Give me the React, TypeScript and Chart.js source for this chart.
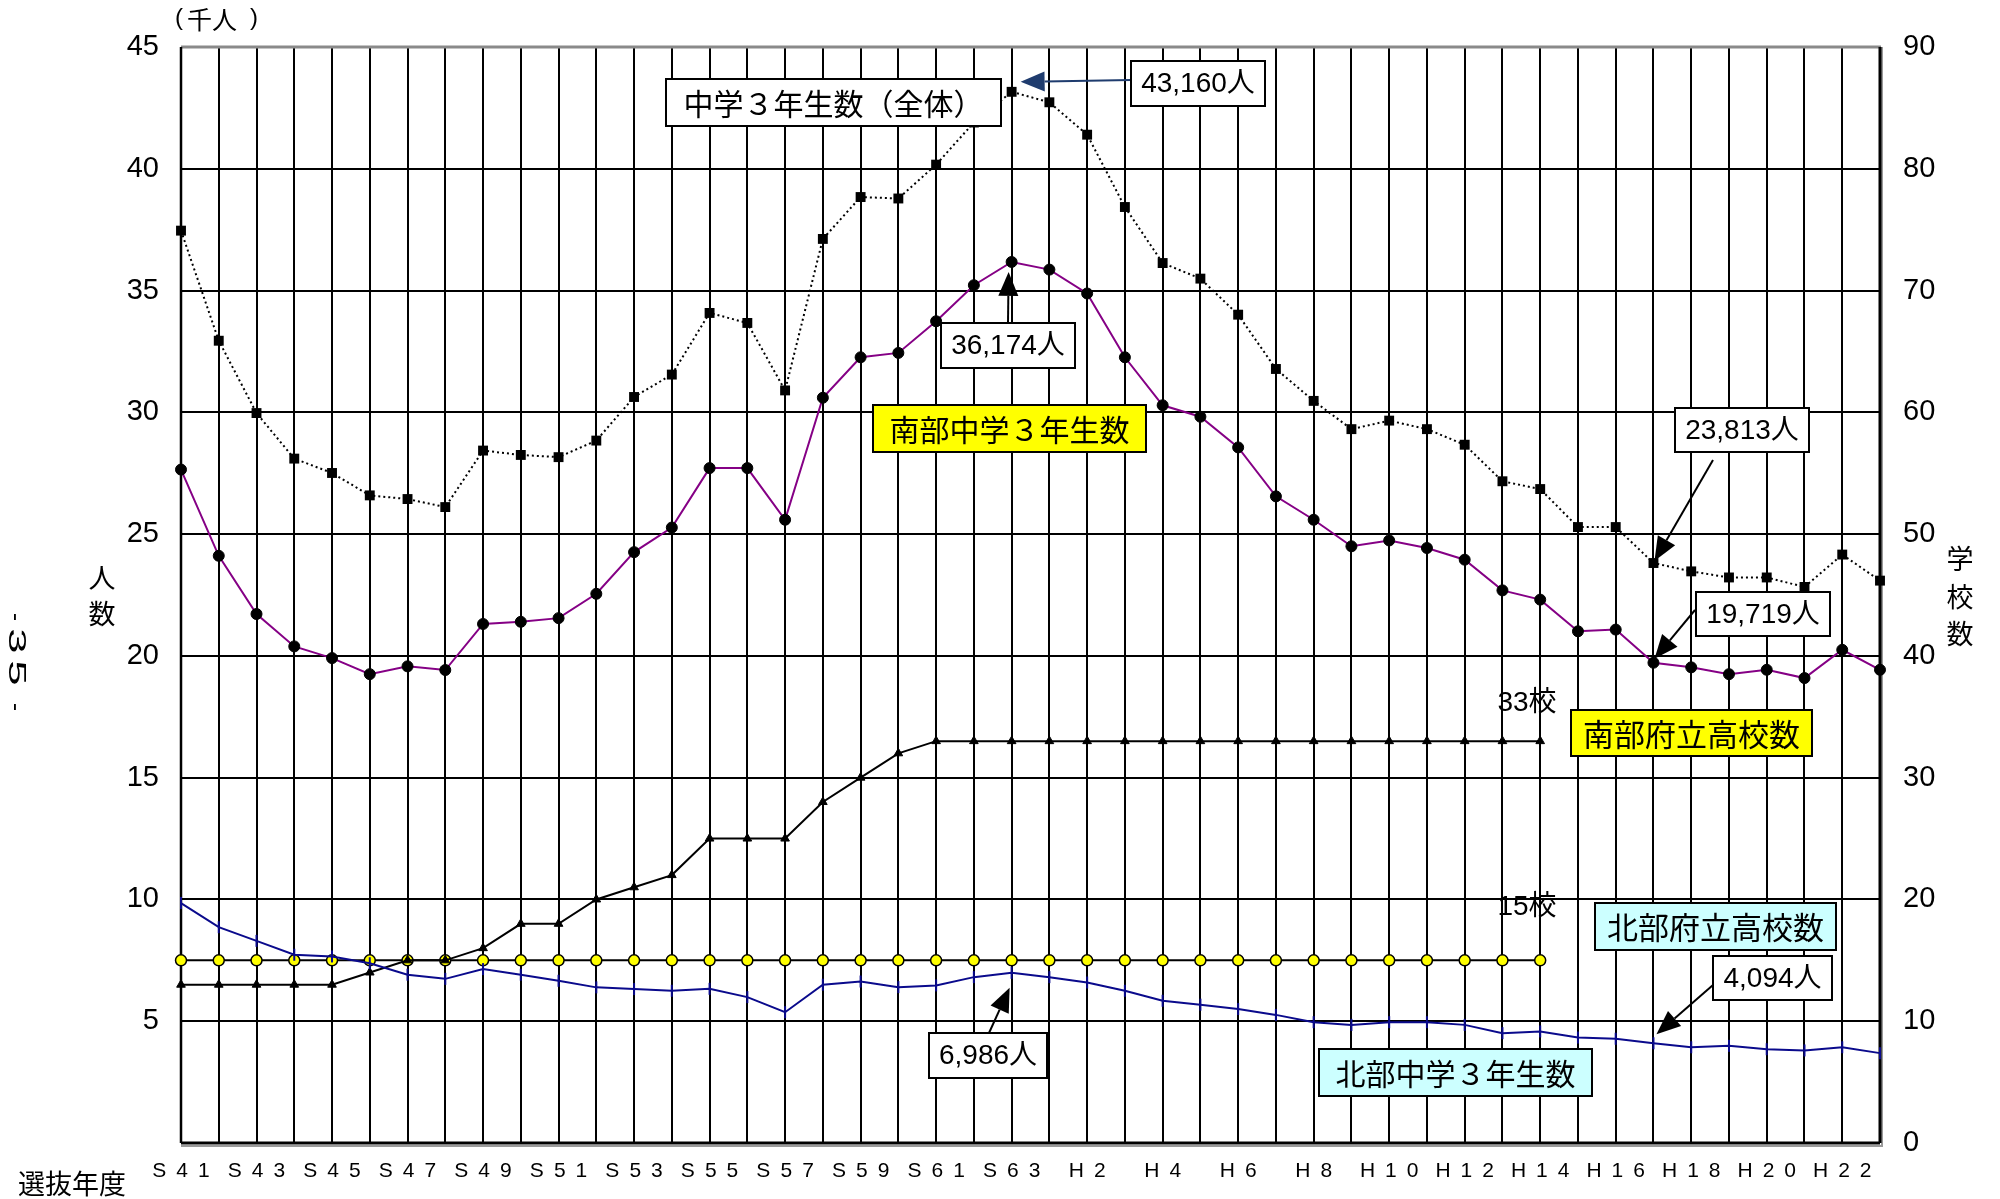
import { useEffect, useRef } from 'react';
import { Chart, registerables } from 'chart.js';

Chart.register(...registerables);

// 選抜年度 (S41 … H23)
const years = [
  'S41', 'S42', 'S43', 'S44', 'S45', 'S46', 'S47', 'S48', 'S49', 'S50',
  'S51', 'S52', 'S53', 'S54', 'S55', 'S56', 'S57', 'S58', 'S59', 'S60',
  'S61', 'S62', 'S63', 'H1', 'H2', 'H3', 'H4', 'H5', 'H6', 'H7',
  'H8', 'H9', 'H10', 'H11', 'H12', 'H13', 'H14', 'H15', 'H16', 'H17',
  'H18', 'H19', 'H20', 'H21', 'H22', 'H23',
];

// 中学3年生数（全体）, thousands
const totalStudents = [
  37.46, 32.94, 29.97, 28.1, 27.51, 26.59, 26.44, 26.11, 28.43, 28.25,
  28.16, 28.84, 30.63, 31.55, 34.08, 33.67, 30.9, 37.12, 38.84, 38.78,
  40.17, 41.9, 43.16, 42.73, 41.4, 38.43, 36.13, 35.49, 34.01, 31.78,
  30.47, 29.31, 29.66, 29.31, 28.67, 27.17, 26.85, 25.29, 25.29, 23.813,
  23.47, 23.22, 23.22, 22.83, 24.16, 23.09,
];

// 南部中学3年生数, thousands
const southStudents = [
  27.65, 24.11, 21.72, 20.39, 19.91, 19.25, 19.57, 19.42, 21.31, 21.4,
  21.55, 22.55, 24.26, 25.27, 27.71, 27.71, 25.59, 30.6, 32.26, 32.44,
  33.74, 35.22, 36.174, 35.86, 34.88, 32.26, 30.29, 29.82, 28.56, 26.55,
  25.59, 24.5, 24.74, 24.43, 23.95, 22.69, 22.31, 21.01, 21.08, 19.719,
  19.53, 19.25, 19.43, 19.09, 20.25, 19.43,
];

// 北部中学3年生数, thousands
const northStudents = [
  9.85, 8.86, 8.3, 7.73, 7.66, 7.38, 6.91, 6.74, 7.14, 6.91,
  6.66, 6.39, 6.32, 6.25, 6.33, 5.99, 5.37, 6.5, 6.63, 6.4,
  6.47, 6.81, 6.986, 6.81, 6.59, 6.25, 5.84, 5.68, 5.5, 5.26,
  4.96, 4.85, 4.96, 4.96, 4.85, 4.51, 4.58, 4.33, 4.28, 4.094,
  3.93, 3.99, 3.85, 3.8, 3.93, 3.69,
];

// 南部府立高校数 (right axis)
const southSchools = [
  13, 13, 13, 13, 13, 14, 15, 15, 16, 18,
  18, 20, 21, 22, 25, 25, 25, 28, 30, 32,
  33, 33, 33, 33, 33, 33, 33, 33, 33, 33,
  33, 33, 33, 33, 33, 33, 33, null, null, null,
  null, null, null, null, null, null,
];

// 北部府立高校数 (right axis)
const northSchools = [
  15, 15, 15, 15, 15, 15, 15, 15, 15, 15,
  15, 15, 15, 15, 15, 15, 15, 15, 15, 15,
  15, 15, 15, 15, 15, 15, 15, 15, 15, 15,
  15, 15, 15, 15, 15, 15, 15, null, null, null,
  null, null, null, null, null, null,
];

const LATIN = '"Liberation Sans", Arial, sans-serif';
const CJK = '"Noto Sans CJK JP", "Liberation Sans", sans-serif';
const NUM = '"Liberation Sans", "Noto Sans CJK JP", sans-serif';

type Callout = {
  text: string;
  series: number[];
  index: number;
  box: [number, number, number, number];
  from: [number, number];
  tipOffset: [number, number];
  color: string;
};

// value call-outs with arrows pointing at the stated point
const callouts: Callout[] = [
  { text: '43,160人', series: totalStudents, index: 22, box: [1131, 61, 134, 45], from: [1131, 80], tipOffset: [9, -10], color: '#1f3c6e' },
  { text: '36,174人', series: southStudents, index: 22, box: [941, 323, 134, 45], from: [1008, 323], tipOffset: [-3, 10], color: '#000' },
  { text: '23,813人', series: totalStudents, index: 39, box: [1675, 408, 134, 44], from: [1713, 460], tipOffset: [1, -2], color: '#000' },
  { text: '19,719人', series: southStudents, index: 39, box: [1696, 592, 134, 44], from: [1695, 610], tipOffset: [1, -4], color: '#000' },
  { text: '4,094人', series: northStudents, index: 39, box: [1713, 956, 119, 44], from: [1713, 985], tipOffset: [3, -9], color: '#000' },
  { text: '6,986人', series: northStudents, index: 22, box: [929, 1033, 118, 45], from: [989, 1033], tipOffset: [-2, 15], color: '#000' },
];

type Label = { text: string; box: [number, number, number, number]; fill: string; size: number };

const seriesLabels: Label[] = [
  { text: '中学３年生数（全体）', box: [666, 79, 335, 47], fill: '#ffffff', size: 30 },
  { text: '南部中学３年生数', box: [873, 405, 273, 47], fill: '#ffff00', size: 30 },
  { text: '南部府立高校数', box: [1571, 710, 241, 46], fill: '#ffff00', size: 31 },
  { text: '北部府立高校数', box: [1595, 903, 241, 47], fill: '#ccffff', size: 31 },
  { text: '北部中学３年生数', box: [1319, 1049, 273, 47], fill: '#ccffff', size: 30 },
];

function drawArrow(ctx: CanvasRenderingContext2D, x1: number, y1: number, x2: number, y2: number, color: string) {
  const ang = Math.atan2(y2 - y1, x2 - x1);
  const headLen = 24;
  const headHalf = 10;
  const bx = x2 - Math.cos(ang) * headLen;
  const by = y2 - Math.sin(ang) * headLen;
  ctx.save();
  ctx.strokeStyle = color;
  ctx.fillStyle = color;
  ctx.lineWidth = 2;
  ctx.beginPath();
  ctx.moveTo(x1, y1);
  ctx.lineTo(bx, by);
  ctx.stroke();
  ctx.beginPath();
  ctx.moveTo(x2, y2);
  ctx.lineTo(bx + Math.sin(ang) * headHalf, by - Math.cos(ang) * headHalf);
  ctx.lineTo(bx - Math.sin(ang) * headHalf, by + Math.cos(ang) * headHalf);
  ctx.closePath();
  ctx.fill();
  ctx.restore();
}

function drawBox(ctx: CanvasRenderingContext2D, box: [number, number, number, number], fill: string, text: string, font: string) {
  const [x, y, w, h] = box;
  ctx.save();
  ctx.fillStyle = fill;
  ctx.fillRect(x, y, w, h);
  ctx.strokeStyle = '#000';
  ctx.lineWidth = 2;
  ctx.strokeRect(x, y, w, h);
  ctx.fillStyle = '#000';
  ctx.font = font;
  ctx.textAlign = 'center';
  ctx.textBaseline = 'middle';
  ctx.fillText(text, x + w / 2, y + h / 2 + 1);
  ctx.restore();
}

const framePlugin = {
  id: 'frame',
  beforeDatasetsDraw(chart: any) {
    const { ctx, chartArea: a } = chart;
    ctx.save();
    // top edge
    ctx.strokeStyle = '#8a8a8a';
    ctx.lineWidth = 3;
    ctx.beginPath();
    ctx.moveTo(a.left, a.top);
    ctx.lineTo(a.right + 1, a.top);
    ctx.stroke();
    // right edge shadow + line
    ctx.strokeStyle = '#9a9a9a';
    ctx.lineWidth = 2;
    ctx.beginPath();
    ctx.moveTo(a.right + 2, a.top);
    ctx.lineTo(a.right + 2, a.bottom + 3);
    ctx.lineTo(a.left, a.bottom + 3);
    ctx.stroke();
    ctx.strokeStyle = '#000';
    ctx.lineWidth = 3;
    ctx.beginPath();
    ctx.moveTo(a.right, a.top);
    ctx.lineTo(a.right, a.bottom);
    ctx.stroke();
    // bottom and left axes
    ctx.beginPath();
    ctx.moveTo(a.left, a.bottom);
    ctx.lineTo(a.right, a.bottom);
    ctx.stroke();
    ctx.lineWidth = 2.5;
    ctx.beginPath();
    ctx.moveTo(a.left, a.top);
    ctx.lineTo(a.left, a.bottom);
    ctx.stroke();
    ctx.restore();
  },
};

const annotationPlugin = {
  id: 'annotations',
  afterDraw(chart: any) {
    const { ctx } = chart;
    const xs = chart.scales.x;
    const ys = chart.scales.y;

    for (const l of seriesLabels) {
      drawBox(ctx, l.box, l.fill, l.text, `${l.size}px ${CJK}`);
    }

    for (const c of callouts) {
      const px = xs.getPixelForValue(c.index);
      const py = ys.getPixelForValue(c.series[c.index]);
      drawArrow(ctx, c.from[0], c.from[1], px + c.tipOffset[0], py + c.tipOffset[1], c.color);
      drawBox(ctx, c.box, '#ffffff', c.text, `28px ${NUM}`);
    }

    ctx.save();
    ctx.fillStyle = '#000';
    ctx.textAlign = 'center';
    ctx.textBaseline = 'middle';

    // school-count notes
    ctx.font = `28px ${NUM}`;
    ctx.fillText('33校', 1527, 703);
    ctx.fillText('15校', 1527, 907);

    // unit label（千人）
    ctx.font = `25px ${CJK}`;
    ctx.fillText('千人', 212, 19);
    ctx.font = `24px ${LATIN}`;
    ctx.fillText('(', 179, 18);
    ctx.fillText(')', 254, 18);

    // axis titles
    ctx.font = `27px ${CJK}`;
    ctx.fillText('人', 102, 578);
    ctx.fillText('数', 102, 614);
    ctx.fillText('学', 1960, 559);
    ctx.fillText('校', 1960, 597);
    ctx.fillText('数', 1960, 634);
    ctx.fillText('選抜年度', 72, 1184);

    // page number, set vertically
    ctx.font = `24px ${LATIN}`;
    const pageChars: [string, number, number][] = [['-', 617, 1], ['3', 641, 1.9], ['5', 673, 1.9], ['-', 707, 1]];
    for (const [ch, y, stretch] of pageChars) {
      ctx.save();
      ctx.translate(16, y);
      ctx.rotate(Math.PI / 2);
      ctx.scale(stretch, 1);
      ctx.fillText(ch, 0, 0);
      ctx.restore();
    }
    ctx.restore();
  },
};

export default function App() {
  const canvasRef = useRef<HTMLCanvasElement | null>(null);

  useEffect(() => {
    const canvas = canvasRef.current;
    if (!canvas) return;
    const chart = new Chart(canvas, {
      type: 'line',
      data: {
        labels: years,
        datasets: [
          {
            label: '北部府立高校数',
            data: northSchools,
            yAxisID: 'y2',
            borderColor: '#000',
            borderWidth: 2,
            pointStyle: 'circle',
            pointRadius: 5.5,
            pointBackgroundColor: '#ffff00',
            pointBorderColor: '#000',
            pointBorderWidth: 1.5,
            spanGaps: false,
            clip: false,
            order: 5,
          },
          {
            label: '南部府立高校数',
            data: southSchools,
            yAxisID: 'y2',
            borderColor: '#000',
            borderWidth: 2,
            pointStyle: 'triangle',
            pointRadius: 5,
            pointBackgroundColor: '#000',
            pointBorderColor: '#000',
            pointBorderWidth: 1,
            spanGaps: false,
            clip: false,
            order: 4,
          },
          {
            label: '北部中学3年生数',
            data: northStudents,
            yAxisID: 'y',
            borderColor: '#0a0a8c',
            borderWidth: 2,
            pointStyle: 'line',
            rotation: 90,
            pointRadius: 6,
            pointBorderColor: '#0a0a8c',
            pointBorderWidth: 2,
            clip: false,
            order: 3,
          },
          {
            label: '南部中学3年生数',
            data: southStudents,
            yAxisID: 'y',
            borderColor: '#850085',
            borderWidth: 2,
            pointStyle: 'circle',
            pointRadius: 5.5,
            pointBackgroundColor: '#000',
            pointBorderColor: '#000',
            pointBorderWidth: 1,
            clip: false,
            order: 2,
          },
          {
            label: '中学3年生数（全体）',
            data: totalStudents,
            yAxisID: 'y',
            borderColor: '#000',
            borderWidth: 2,
            borderDash: [2, 3],
            pointStyle: 'rect',
            pointRadius: 7,
            pointBackgroundColor: '#000',
            pointBorderColor: '#000',
            pointBorderWidth: 0,
            clip: false,
            order: 1,
          },
        ],
      },
      options: {
        responsive: false,
        animation: false,
        devicePixelRatio: 1,
        layout: { padding: { top: 47, left: 0, right: 0, bottom: 0 } },
        plugins: {
          legend: { display: false },
          tooltip: { enabled: false },
        },
        scales: {
          x: {
            type: 'category',
            offset: false,
            grid: { color: '#000', lineWidth: 2, drawTicks: false },
            border: { display: false },
            ticks: {
              autoSkip: false,
              maxRotation: 0,
              minRotation: 0,
              padding: 16,
              color: '#000',
              font: { family: LATIN, size: 21 },
              callback: (_v: any, i: number) => (i % 2 === 0 ? years[i].split('').join(' \u2009') : ''),
            },
            afterFit: (s: any) => {
              s.height = 56;
            },
          },
          y: {
            position: 'left',
            min: 0,
            max: 45,
            grid: { color: '#000', lineWidth: 2, drawTicks: false },
            border: { display: false },
            ticks: {
              stepSize: 5,
              padding: 22,
              color: '#000',
              font: { family: LATIN, size: 29 },
              callback: (v: any) => (v === 0 ? '' : String(v)),
            },
            afterFit: (s: any) => {
              s.width = 181;
            },
          },
          y2: {
            position: 'right',
            min: 0,
            max: 90,
            grid: { display: false, drawTicks: false },
            border: { display: false },
            ticks: {
              stepSize: 10,
              padding: 23,
              color: '#000',
              font: { family: LATIN, size: 29 },
            },
            afterFit: (s: any) => {
              s.width = 120;
            },
          },
        },
      },
      plugins: [framePlugin, annotationPlugin],
    } as any);
    return () => chart.destroy();
  }, []);

  return (
    <div style={{ position: 'absolute', left: 0, top: 0, width: 2000, height: 1199, background: '#fff' }}>
      <canvas ref={canvasRef} width={2000} height={1199} style={{ display: 'block' }} />
    </div>
  );
}
